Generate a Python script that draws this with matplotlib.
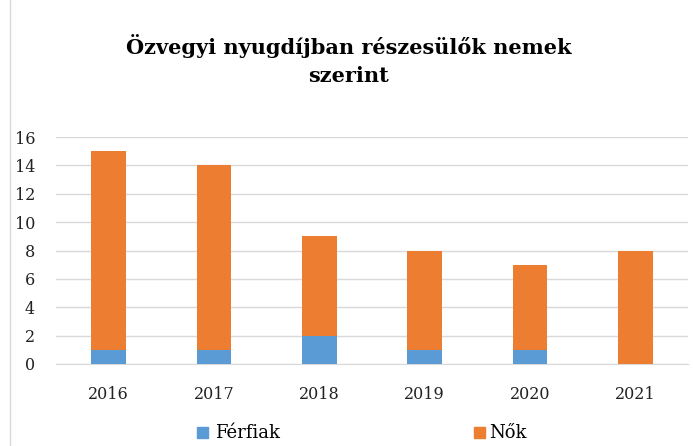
import matplotlib
matplotlib.use("Agg")
import matplotlib.pyplot as plt
from matplotlib.lines import Line2D
from matplotlib.patches import Rectangle
import numpy as np

years = ["2016", "2017", "2018", "2019", "2020", "2021"]
ferfiak = [1, 1, 2, 1, 1, 0]
nok = [14, 13, 7, 7, 6, 8]
yticks = [0, 2, 4, 6, 8, 10, 12, 14, 16]
colors = {"Férfiak": "#5B9BD5", "Nők": "#ED7D31"}

plt.rcParams["font.family"] = ["DejaVu Serif"]

W, H = 693, 446
fig = plt.figure(figsize=(W / 100, H / 100), dpi=100)
ax = fig.add_axes([56 / W, 82 / H, 632 / W, 227 / H])

x = np.arange(len(years))
ax.bar(x, ferfiak, width=0.33, color=colors["Férfiak"], zorder=3)
ax.bar(x, nok, width=0.33, bottom=ferfiak, color=colors["Nők"], zorder=3)

ax.set_xlim(-0.5, len(years) - 0.5)
ax.set_ylim(0, 16)
ax.set_yticks(yticks)
ax.set_yticklabels([str(v) for v in yticks], fontsize=11.5)
ax.set_xticks(x)
ax.set_xticklabels(years, fontsize=11.5)
ax.tick_params(axis="both", length=0, colors="#222222")
ax.tick_params(axis="y", pad=15)
ax.tick_params(axis="x", pad=16)
ax.grid(axis="y", color="#D9D9D9", linewidth=1, zorder=0)
for side in ["top", "right", "left"]:
    ax.spines[side].set_visible(False)
ax.spines["bottom"].set_color("#D9D9D9")

fig.text(0.503, 1 - 60 / H, "Özvegyi nyugdíjban részesülők nemek\nszerint",
         ha="center", va="center", fontsize=15, fontweight="bold",
         linespacing=1.5)

# legend under the axis: square swatch + label
for name, sx, tx in [("Férfiak", 197, 215), ("Nők", 474, 489)]:
    fig.add_artist(Rectangle((sx / W, 1 - 438 / H), 11 / W, 11 / H,
                             color=colors[name], transform=fig.transFigure))
    fig.text(tx / W, 1 - 438 / H, name, fontsize=13, ha="left", va="baseline")

# chart frame on the left
fig.add_artist(Line2D([10 / W, 10 / W], [0, 1], color="#D9D9D9", linewidth=1))

fig.savefig("out.png", dpi=100)
